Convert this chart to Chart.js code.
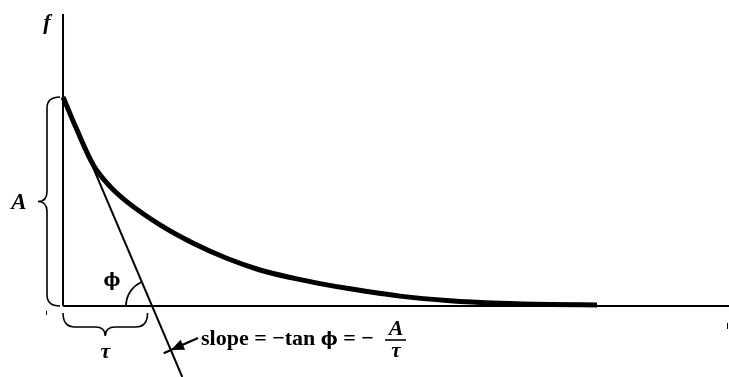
<!DOCTYPE html>
<html>
<head>
<meta charset="utf-8">
<title>Exponential decay and its initial tangent</title>
<script src="https://cdn.jsdelivr.net/npm/chart.js@4/dist/chart.umd.min.js"></script>
<style>
  html, body { margin: 0; padding: 0; background: #ffffff; }
  #wrap { width: 729px; height: 377px; }
</style>
</head>
<body>
<div id="wrap"><canvas id="c" width="729" height="377"></canvas></div>
<script>
// Time in units of tau, f in units of A
const AMPLITUDE = 1;
const TAU = 1;

// Decay curve f(t) traced as drawn
const curveT = [0, 0.154, 0.340, 0.528, 0.716, 1.090, 1.464, 1.839, 2.213, 2.588, 2.888, 3.225, 3.787, 4.348, 4.910, 5.472, 6.0];
const curveF = [1.0, 0.845, 0.675, 0.572, 0.499, 0.388, 0.300, 0.228, 0.172, 0.133, 0.107, 0.082, 0.047, 0.025, 0.013, 0.007, 0.005];

// Initial tangent: starts at (0, A), crosses the axis at t = tau, runs off the bottom
const tangentT = [0, 1.34];
const tangentF = [1, -0.34];

// Visible window of the plot
const xRange = [-0.708, 7.483];
const yRange = [-0.340, 1.464];
const axisTopF = 1.397;

const toPoints = (xs, ys) => xs.map((x, i) => ({ x: x, y: ys[i] }));

const INK = '#000000';

// Axes, braces, angle arc and the symbolic labels
const annotations = {
  id: 'annotations',
  beforeDatasetsDraw(chart) {
    const { ctx, scales: { x, y } } = chart;
    const x0 = x.getPixelForValue(0);
    const y0 = y.getPixelForValue(0);
    ctx.save();
    ctx.strokeStyle = INK;
    ctx.lineCap = 'butt';
    ctx.lineWidth = 2;
    ctx.beginPath();
    ctx.moveTo(x0, y.getPixelForValue(axisTopF));
    ctx.lineTo(x0, y0);
    ctx.moveTo(x0, y0);
    ctx.lineTo(x.right, y0);
    ctx.stroke();
    ctx.restore();
  },
  afterDatasetsDraw(chart) {
    const { ctx, scales: { x, y } } = chart;
    const x0 = x.getPixelForValue(0);
    const y0 = y.getPixelForValue(0);
    const yA = y.getPixelForValue(AMPLITUDE);
    const xTau = x.getPixelForValue(TAU);
    ctx.save();
    ctx.strokeStyle = INK;
    ctx.fillStyle = INK;
    ctx.lineWidth = 1.6;

    // Brace spanning A, to the left of the f axis
    const bx = x0 - 16, bEnd = x0 - 3, bTip = x0 - 25;
    const bMid = (yA + y0) / 2;
    ctx.beginPath();
    ctx.moveTo(bEnd, yA);
    ctx.quadraticCurveTo(bx, yA, bx, yA + 11);
    ctx.lineTo(bx, bMid - 10);
    ctx.quadraticCurveTo(bx, bMid, bTip, bMid);
    ctx.quadraticCurveTo(bx, bMid, bx, bMid + 10);
    ctx.lineTo(bx, y0 - 11);
    ctx.quadraticCurveTo(bx, y0, bEnd, y0);
    ctx.stroke();

    // Brace spanning tau, under the time axis
    const tl = x0, tr = x.getPixelForValue(0.95 * TAU);
    const ty = y0 + 7, tyMid = y0 + 21, tyTip = y0 + 30;
    const tMid = (tl + tr) / 2;
    ctx.beginPath();
    ctx.moveTo(tl, ty);
    ctx.quadraticCurveTo(tl, tyMid, tl + 12, tyMid);
    ctx.lineTo(tMid - 10, tyMid);
    ctx.quadraticCurveTo(tMid, tyMid, tMid, tyTip);
    ctx.quadraticCurveTo(tMid, tyMid, tMid + 10, tyMid);
    ctx.lineTo(tr - 12, tyMid);
    ctx.quadraticCurveTo(tr, tyMid, tr, ty);
    ctx.stroke();

    // Angle phi between the axis and the tangent
    const dirX = x0 - xTau, dirY = yA - y0;
    const lineAngle = Math.atan2(dirY, dirX) + 2 * Math.PI;
    ctx.lineWidth = 1.8;
    ctx.beginPath();
    ctx.arc(xTau, y0, 26, Math.PI, lineAngle, false);
    ctx.stroke();

    // Arrow from the slope note to the tangent
    const ax1 = 198, ay1 = 338, ax2 = 171, ay2 = 350;
    const ang = Math.atan2(ay2 - ay1, ax2 - ax1);
    ctx.lineWidth = 2.4;
    ctx.beginPath();
    ctx.moveTo(ax1, ay1);
    ctx.lineTo(ax2 + 8 * Math.cos(ang), ay2 + 8 * Math.sin(ang));
    ctx.stroke();
    ctx.beginPath();
    ctx.moveTo(ax2, ay2);
    ctx.lineTo(ax2 - 13 * Math.cos(ang) + 5.5 * Math.sin(ang), ay2 - 13 * Math.sin(ang) - 5.5 * Math.cos(ang));
    ctx.lineTo(ax2 - 13 * Math.cos(ang) - 5.5 * Math.sin(ang), ay2 - 13 * Math.sin(ang) + 5.5 * Math.cos(ang));
    ctx.closePath();
    ctx.fill();

    // Small marks along the base line
    ctx.lineWidth = 1;
    ctx.beginPath();
    ctx.moveTo(46.5, y0 + 5); ctx.lineTo(46.5, y0 + 9);
    ctx.moveTo(x.right - 1.5, y0 + 17); ctx.lineTo(x.right - 1.5, y0 + 23);
    ctx.stroke();

    // Labels
    const serif = '"Liberation Serif", "DejaVu Serif", serif';
    const phiFont = '"DejaVu Serif", "Liberation Serif", serif';
    ctx.textAlign = 'center';
    ctx.textBaseline = 'alphabetic';
    ctx.font = 'italic bold 22px ' + serif;
    ctx.fillText('f', x0 - 16, 29);
    ctx.font = 'italic bold 23px ' + serif;
    ctx.fillText('A', bTip - 19, bMid + 8);
    ctx.font = 'bold 18px ' + phiFont;
    ctx.fillText('\u03D5', xTau - 40, y0 - 20);
    ctx.font = 'italic bold 22px ' + serif;
    ctx.fillText('\u03C4', tMid, tyTip + 22);

    // Slope note, laid out piece by piece
    ctx.textAlign = 'left';
    const textFont = 'bold 22px ' + serif;
    const baseY = 345;
    let cx = 201;
    ctx.font = textFont;
    const part1 = 'slope = \u2212tan ';
    ctx.fillText(part1, cx, baseY);
    cx += ctx.measureText(part1).width;
    ctx.font = 'bold 18px ' + phiFont;
    ctx.fillText('\u03D5', cx, baseY);
    cx += ctx.measureText('\u03D5').width;
    ctx.font = textFont;
    const part2 = ' = \u2212';
    ctx.fillText(part2, cx, baseY);

    ctx.textAlign = 'center';
    ctx.font = 'italic bold 22px ' + serif;
    ctx.fillText('A', 396, 335);
    ctx.font = 'italic bold 21px ' + serif;
    ctx.fillText('\u03C4', 396, 357);
    ctx.lineWidth = 1.6;
    ctx.beginPath();
    ctx.moveTo(385, 340);
    ctx.lineTo(406, 340);
    ctx.stroke();
    ctx.restore();
  }
};

new Chart(document.getElementById('c'), {
  type: 'scatter',
  data: {
    datasets: [
      {
        label: 'tangent',
        data: toPoints(tangentT, tangentF),
        showLine: true,
        borderColor: INK,
        borderWidth: 2,
        pointRadius: 0,
        order: 2
      },
      {
        label: 'f',
        data: toPoints(curveT, curveF),
        showLine: true,
        borderColor: INK,
        borderWidth: 5,
        borderCapStyle: 'butt',
        cubicInterpolationMode: 'monotone',
        pointRadius: 0,
        order: 1
      }
    ]
  },
  options: {
    responsive: false,
    devicePixelRatio: 1,
    animation: false,
    layout: { padding: 0 },
    plugins: { legend: { display: false }, tooltip: { enabled: false }, title: { display: false } },
    scales: {
      x: { type: 'linear', display: false, min: xRange[0], max: xRange[1] },
      y: { type: 'linear', display: false, min: yRange[0], max: yRange[1] }
    }
  },
  plugins: [annotations]
});
</script>
</body>
</html>
